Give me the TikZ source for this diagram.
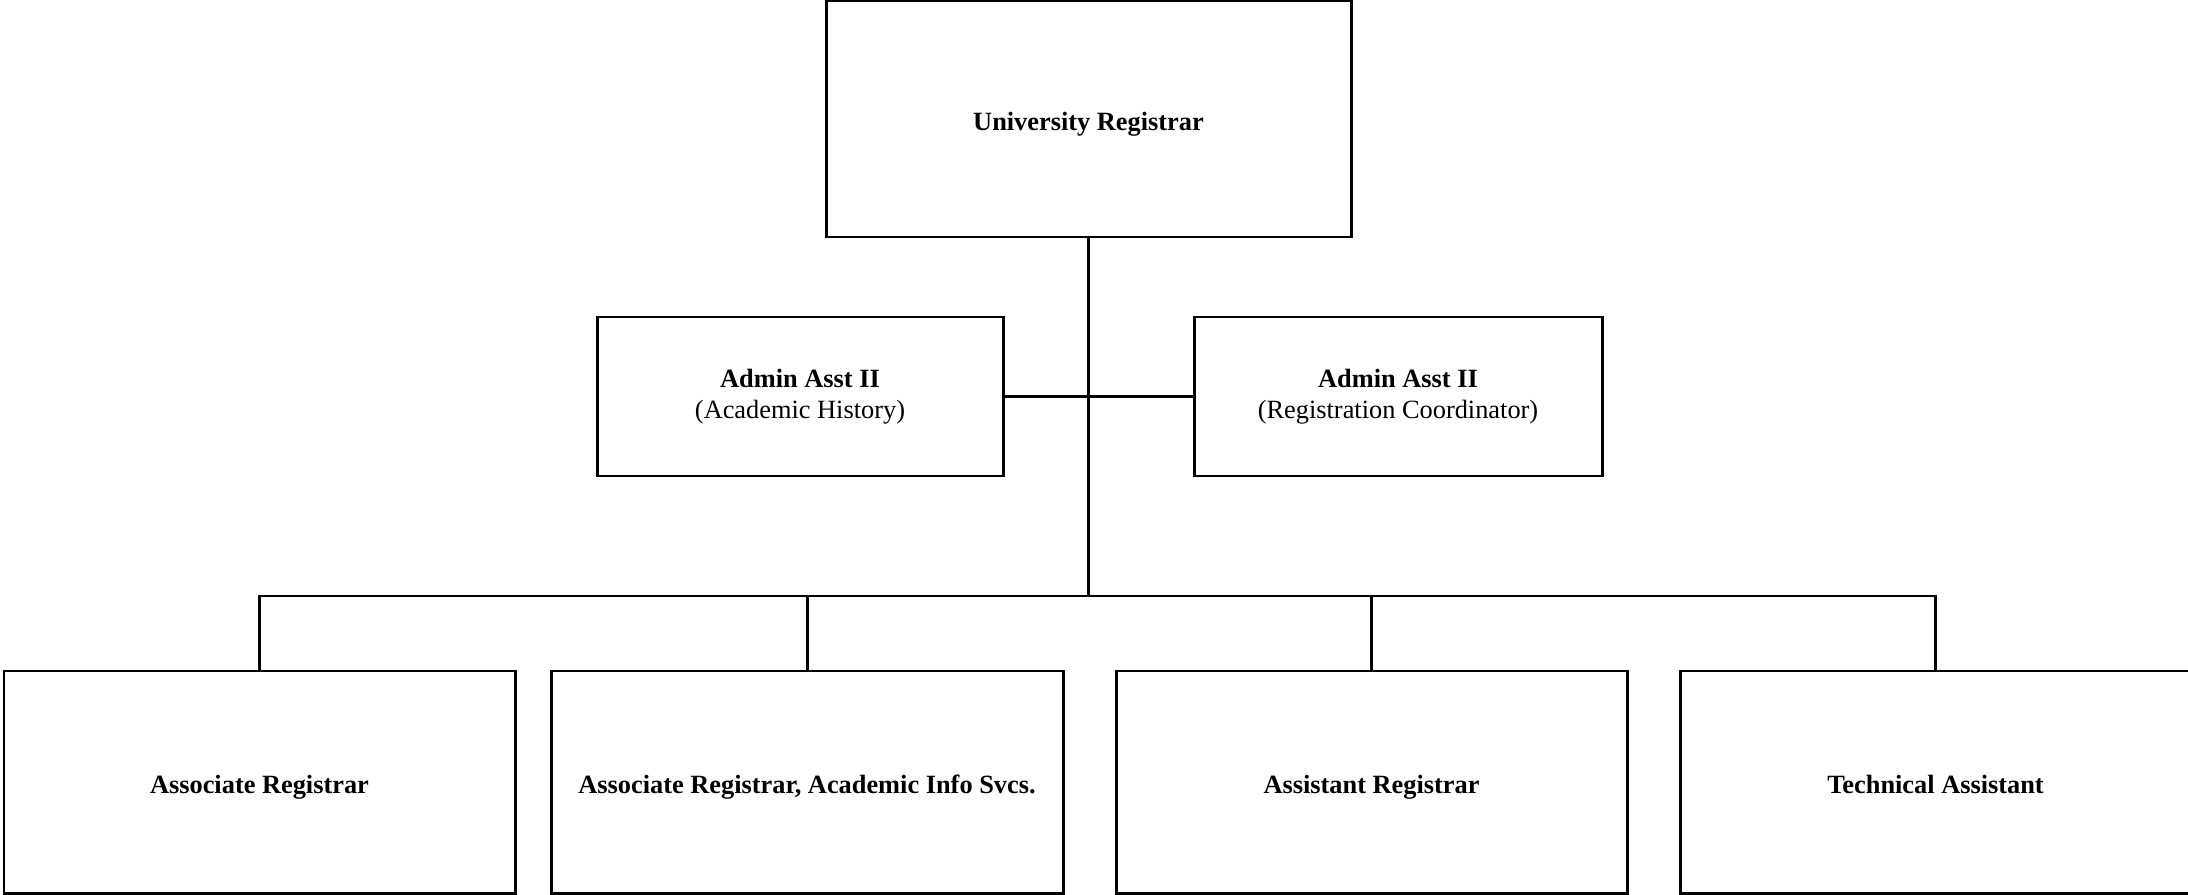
\documentclass[tikz,border=0pt]{standalone}
\usepackage{fontspec}
\setmainfont{Liberation Serif}
\begin{document}
\begin{tikzpicture}[
  postbox/.style={draw,line width=0.85pt,inner sep=2pt,
    font=\fontsize{7.5}{8.8}\selectfont},
  onerow/.style={postbox,text height=6.5pt,text depth=0pt},
  link/.style={line width=0.85pt}]
\useasboundingbox (0,0) rectangle (21.88,-8.95);
% top
\node[onerow,minimum width=5.25cm,minimum height=2.36cm] (reg) at (10.885,-1.19) {\textbf{University Registrar}};
% admin assistants
\node[postbox,minimum width=4.06cm,minimum height=1.59cm] (admA) at (8.00,-3.965)
  {\raisebox{-2.2pt}{\begin{tabular}{@{}c@{}}\textbf{Admin Asst II}\\(Academic History)\end{tabular}}};
\node[postbox,minimum width=4.08cm,minimum height=1.59cm] (admB) at (13.98,-3.965)
  {\raisebox{-2.2pt}{\begin{tabular}{@{}c@{}}\textbf{Admin Asst II}\\(Registration Coordinator)\end{tabular}}};
% bottom row
\node[onerow,minimum width=5.11cm,minimum height=2.22cm] (assoc) at (2.595,-7.82) {\textbf{Associate Registrar}};
\node[onerow,minimum width=5.12cm,minimum height=2.22cm] (assocAI) at (8.07,-7.82) {\textbf{Associate Registrar, Academic Info Svcs.}};
\node[onerow,minimum width=5.11cm,minimum height=2.22cm] (asst) at (13.715,-7.82) {\textbf{Assistant Registrar}};
\node[onerow,minimum width=5.11cm,minimum height=2.22cm] (tech) at (19.355,-7.82) {\textbf{Technical Assistant}};
\coordinate (bus) at (10.885,-5.96);
\draw[link] (reg.south) -- (bus);
\draw[link] (admA.east) -- (admB.west);
\draw[link] (assoc.north) |- (bus) -| (tech.north);
\draw[link] (assocAI.north) -- (assocAI.north |- bus);
\draw[link] (asst.north) -- (asst.north |- bus);
\end{tikzpicture}
\end{document}
